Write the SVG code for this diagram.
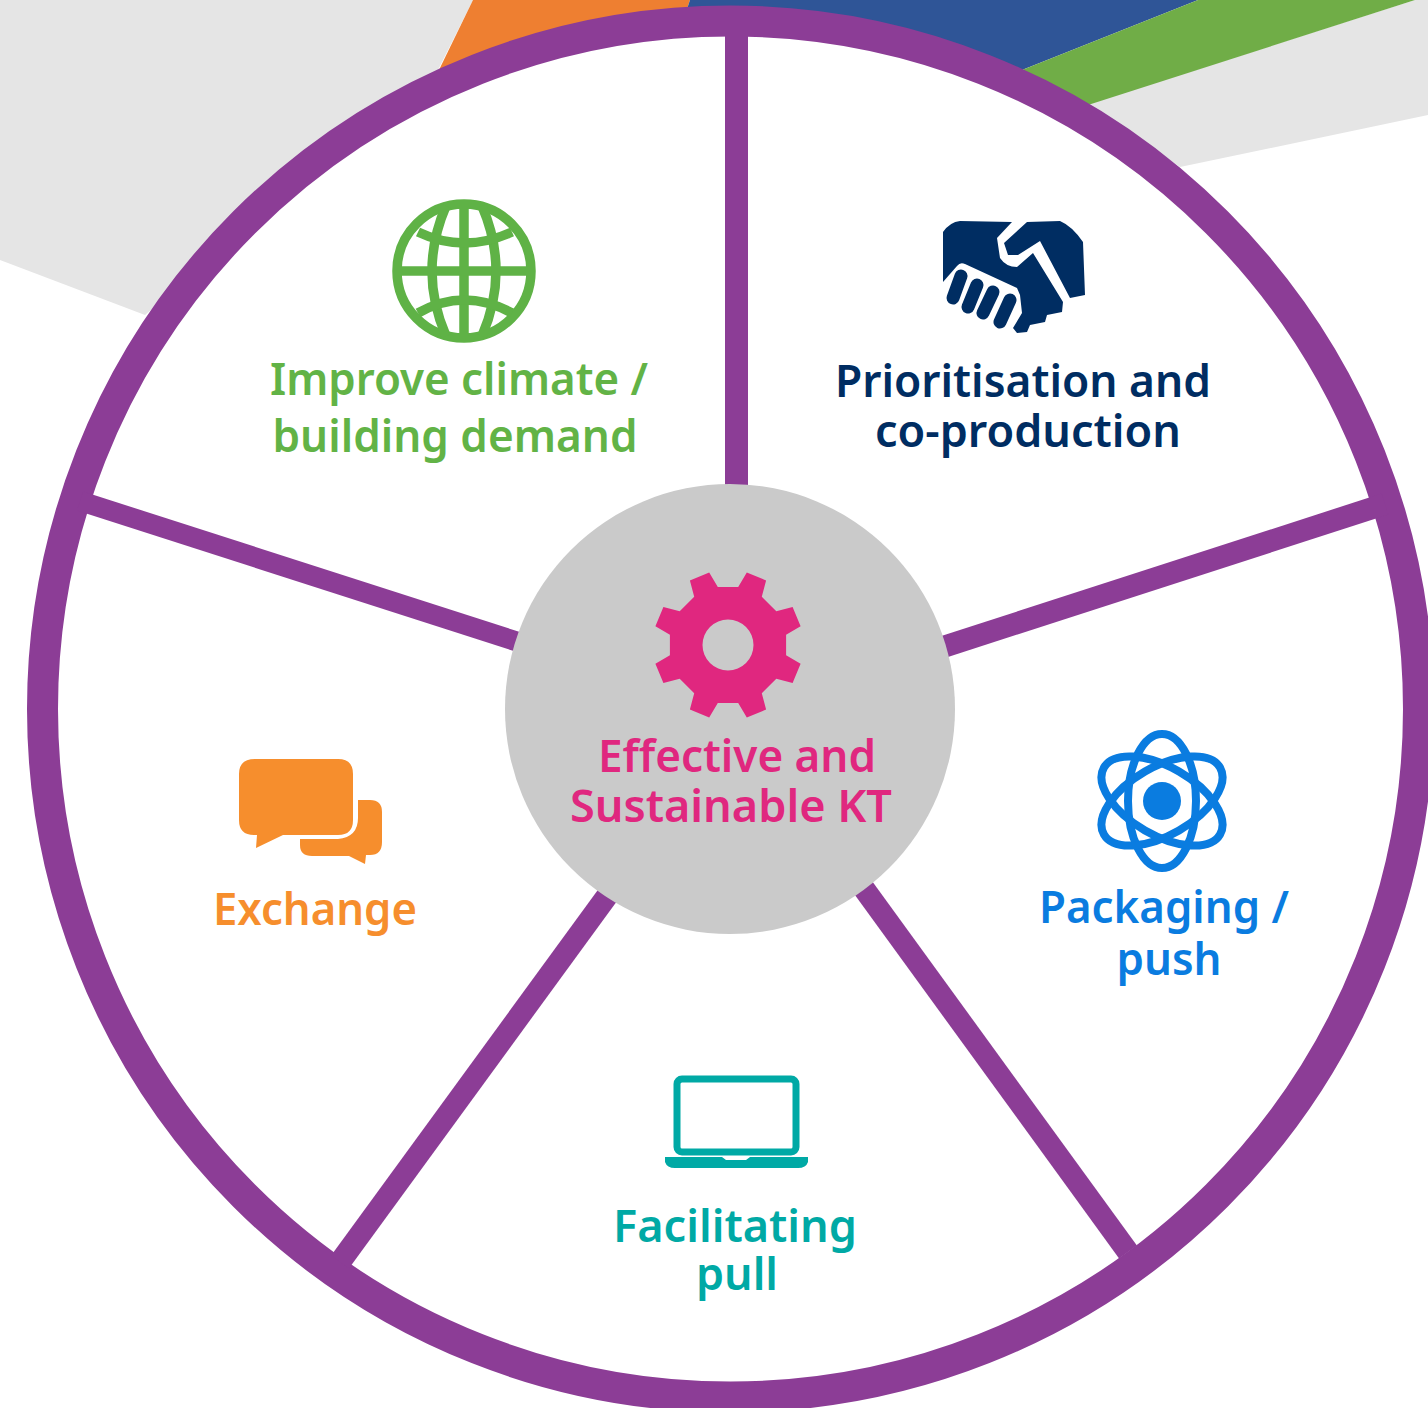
<svg xmlns="http://www.w3.org/2000/svg" width="1428" height="1408" viewBox="0 0 1428 1408">
<style>
text{font-family:"Noto Sans","Open Sans","Liberation Sans",sans-serif;font-weight:600;font-size:45px;text-anchor:middle}
.spoke{stroke:#8c3d96;stroke-width:22;fill:none}
.globe{fill:none;stroke:#5fb246;stroke-width:9.500}
</style>
<rect width="1428" height="1408" fill="#fff"/>
<g id="background">
<polygon points="0,0 473,0 438,70 145,315 0,260" fill="#e5e5e5"/>
<polygon points="1415,0 1428,0 1428,115 1180,167 1088,104" fill="#e5e5e5"/>
<polygon points="473,0 690,0 680,30 438,72" fill="#ee7f31"/>
<polygon points="690,0 1198,0 1022,70 680,30" fill="#2f5597"/>
<polygon points="1198,0 1415,0 1088,105 1022,70" fill="#70ad47"/>
</g>
<g id="wheel">
<circle cx="730.5" cy="709" r="688" fill="#fff" stroke="#8c3d96" stroke-width="31"/>
</g>
<g id="connectors">
<line class="spoke" x1="736.500" y1="30" x2="736.500" y2="490" style="stroke-width:23"/>
<line class="spoke" x1="1385" y1="504" x2="940" y2="648"/>
<line class="spoke" x1="80" y1="501" x2="520" y2="642.500" style="stroke-width:20"/>
<line class="spoke" x1="340" y1="1262" x2="610" y2="892"/>
<line class="spoke" x1="1128" y1="1252" x2="862" y2="886"/>
</g>
<g id="center">
<circle cx="730" cy="709" r="225" fill="#cacaca"/>
<path transform="translate(728 645)" fill="#e0277f" fill-rule="evenodd" d="M58.100 10.200L72.600 18.800L64.600 38.100L48.300 33.800L33.800 48.300L38.100 64.600L18.800 72.600L10.200 58.100L-10.200 58.100L-18.800 72.600L-38.100 64.600L-33.800 48.300L-48.300 33.800L-64.600 38.100L-72.600 18.800L-58.100 10.200L-58.100 -10.200L-72.600 -18.800L-64.600 -38.100L-48.300 -33.800L-33.800 -48.300L-38.100 -64.600L-18.800 -72.600L-10.200 -58.100L10.200 -58.100L18.800 -72.600L38.100 -64.600L33.800 -48.300L48.300 -33.800L64.600 -38.100L72.600 -18.800L58.100 -10.200ZM0 -25.500A25.500 25.500 0 1 0 0 25.500A25.500 25.500 0 1 0 0 -25.500Z"/>
<text x="737" y="772" fill="#e0277f" textLength="278" lengthAdjust="spacingAndGlyphs">Effective and</text>
<text x="731" y="822" fill="#e0277f" textLength="322" lengthAdjust="spacingAndGlyphs">Sustainable KT</text>
</g>
<g id="node-climate">
<circle class="globe" cx="464" cy="271" r="67"/>
<line class="globe" x1="464" y1="204" x2="464" y2="338"/>
<line class="globe" x1="397" y1="271" x2="531" y2="271"/>
<path class="globe" d="M446 206Q418 271 446 336M482 206Q510 271 482 336"/>
<path class="globe" d="M418 232Q464 254 512 232M418 313Q464 287 512 313"/>
<text x="459" y="395" fill="#62b346" textLength="378" lengthAdjust="spacingAndGlyphs">Improve climate /</text>
<text x="455" y="452" fill="#62b346" textLength="365" lengthAdjust="spacingAndGlyphs">building demand</text>
</g>
<g id="node-prioritisation">
<path fill="#002d62" d="M1012 222L960 221Q950 222 943 232L943 282L957 266Q960 262 965 264L1017 288L1020 295L1022 313L1013 328L1017 333L1027 332L1030 325L1045 322L1047 315L1062 312L1063 302L1033 253L1017 267Q1006 267 1000 258L997 238Z"/>
<path fill="#002d62" d="M1027 222L1060 221Q1072 226 1083 242L1085 295L1070 298L1040 241L1018 255L1008 255L1004 243Z"/>
<g stroke="#002d62" stroke-width="13" stroke-linecap="round">
<line x1="961" y1="276" x2="953" y2="298"/><line x1="977" y1="285" x2="968" y2="307"/><line x1="993" y1="292" x2="983" y2="313"/><line x1="1010" y1="300" x2="1000" y2="322"/>
</g>
<text x="1023" y="397" fill="#002d62" textLength="376" lengthAdjust="spacingAndGlyphs">Prioritisation and</text>
<text x="1028" y="447" fill="#002d62" textLength="306" lengthAdjust="spacingAndGlyphs">co-production</text>
</g>
<g id="node-packaging">
<g fill="none" stroke="#0a7ce0" stroke-width="8">
<ellipse cx="1162" cy="801" rx="34" ry="67"/>
<ellipse cx="1162" cy="801" rx="34" ry="67" transform="rotate(60 1162 801)"/>
<ellipse cx="1162" cy="801" rx="34" ry="67" transform="rotate(-60 1162 801)"/>
</g>
<circle cx="1162" cy="801" r="19" fill="#0a7ce0"/>
<text x="1164" y="923" fill="#0a7ce0" textLength="250" lengthAdjust="spacingAndGlyphs">Packaging /</text>
<text x="1169" y="975" fill="#0a7ce0" textLength="105" lengthAdjust="spacingAndGlyphs">push</text>
</g>
<g id="node-facilitating">
<rect x="677" y="1079" width="119" height="73" rx="5" fill="none" stroke="#00a9a5" stroke-width="7"/>
<path fill="#00a9a5" d="M665 1157L722 1157L726 1160L746 1160L750 1157L808 1157L808 1162Q806 1168 798 1168L675 1168Q667 1168 665 1162Z"/>
<text x="735" y="1242" fill="#00a9a5" textLength="244" lengthAdjust="spacingAndGlyphs">Facilitating</text>
<text x="737" y="1290" fill="#00a9a5" textLength="82" lengthAdjust="spacingAndGlyphs">pull</text>
</g>
<g id="node-exchange">
<path fill="#f68e2d" d="M255 759L338 759Q353 759 353 774L353 820Q353 835 338 835L283 835L256 848L257 835L254 835Q239 835 239 820L239 774Q239 759 255 759Z"/>
<path fill="#f68e2d" d="M358 800L370 800Q382 800 382 812L382 842Q382 855 370 855L366 855L365 864L349 856L312 856Q300 856 300 845L300 839L338 839Q358 837 358 818Z"/>
<text x="315" y="925" fill="#f68e2d" textLength="204" lengthAdjust="spacingAndGlyphs">Exchange</text>
</g>
</svg>
